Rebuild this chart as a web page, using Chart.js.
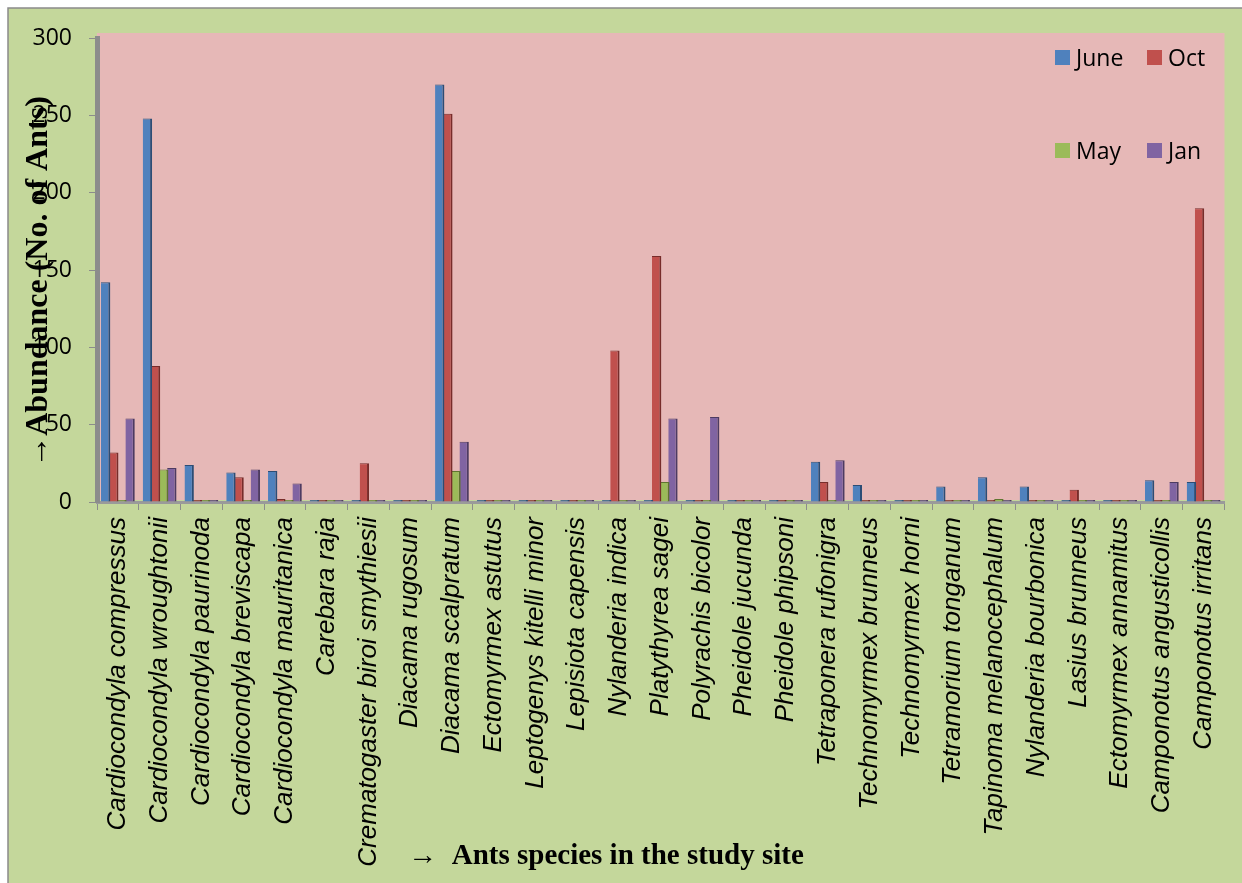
<!DOCTYPE html>
<html>
<head>
    <title>Ants abundance</title>
    <script src="https://cdn.jsdelivr.net/npm/chart.js"></script>
    <style>
        body { margin: 0; background: #fff; }
        #wrap { position: relative; width: 1242px; height: 883px; }
        #legend { position: absolute; left: 1055px; top: 41px; width: 170px; font-family: "Open Sans", sans-serif; font-size: 23px; color: #000; }
        .item { position: absolute; display: flex; align-items: center; }
        .sw { width: 15px; height: 15px; margin-right: 6px; }
    </style>
</head>
<body>
<div id="wrap">
    <canvas id="myChart" width="1242" height="883"></canvas>
    <div id="legend"></div>
</div>
<script>
    // species on the x axis
    const species = [
        "Cardiocondyla compressus", "Cardiocondyla wroughtonii", "Cardiocondyla paurinoda",
        "Cardiocondyla breviscapa", "Cardiocondyla mauritanica", "Carebara raja",
        "Crematogaster biroi smythiesii", "Diacama rugosum", "Diacama scalpratum",
        "Ectomyrmex astutus", "Leptogenys kitelli minor", "Lepisiota capensis",
        "Nylanderia indica", "Platythyrea sagei", "Polyrachis bicolor",
        "Pheidole jucunda", "Pheidole phipsoni", "Tetraponera rufonigra",
        "Technomyrmex brunneus", "Technomyrmex horni", "Tetramorium tonganum",
        "Tapinoma melanocephalum", "Nylanderia bourbonica", "Lasius brunneus",
        "Ectomyrmex annamitus", "Camponotus angusticollis", "Camponotus irritans"
    ];

    const june = [142, 248, 24, 19, 20, 0, 0, 0, 270, 0, 0, 0, 0, 0, 0, 0, 0, 26, 11, 0, 10, 16, 10, 0, 0, 14, 13];
    const oct  = [32, 88, 0, 16, 2, 0, 25, 0, 251, 0, 0, 0, 98, 159, 0, 0, 0, 13, 0, 0, 0, 0, 0, 8, 0, 0, 190];
    const may  = [0, 21, 0, 0, 0, 0, 0, 0, 20, 0, 0, 0, 0, 13, 0, 0, 0, 0, 0, 0, 0, 2, 0, 0, 0, 0, 0];
    const jan  = [54, 22, 0, 21, 12, 0, 0, 0, 39, 0, 0, 0, 0, 54, 55, 0, 0, 27, 0, 0, 0, 0, 0, 0, 0, 13, 0];

    const yTicks = [0, 50, 100, 150, 200, 250, 300];

    const seriesNames = ["June", "Oct", "May", "Jan"];
    const seriesData = [june, oct, may, jan];
    const fills = ["#4f81bd", "#c0504d", "#9bbb59", "#8064a2"];
    const sides = ["#2c4d75", "#772c2a", "#5f7530", "#4d3b62"];

    const yTitle = "\u2192Abundance (No. of Ants)";
    const xTitle = "\u2192  Ants species in the study site";

    // backgrounds: outer green frame, pink plot wall, axis titles
    const frame = {
        id: "frame",
        beforeDraw(chart) {
            const c = chart.ctx, a = chart.chartArea;
            c.save();
            c.fillStyle = "#ffffff";
            c.fillRect(0, 0, chart.width, chart.height);
            c.fillStyle = "#c4d79b";
            c.fillRect(8, 8, chart.width - 8, chart.height - 8);
            c.strokeStyle = "#8a8a8a";
            c.lineWidth = 1.5;
            c.strokeRect(8, 8, chart.width - 6, chart.height);
            c.fillStyle = "#e6b8b7";
            c.fillRect(a.left, a.top - 5, a.right - a.left, a.bottom - a.top + 3);
            c.restore();
        },
        afterDraw(chart) {
            const c = chart.ctx, a = chart.chartArea;
            c.save();
            c.fillStyle = "#000";
            c.textAlign = "center";
            c.textBaseline = "middle";
            c.font = "bold 29px 'Liberation Serif'";
            c.fillText(xTitle, 606, 857);
            c.translate(39, (a.top + a.bottom) / 2 + 12);
            c.rotate(-Math.PI / 2);
            c.font = "bold 32px 'Liberation Serif'";
            c.fillText(yTitle, 0, 0);
            c.restore();
        }
    };

    const ctx = document.getElementById("myChart");
    new Chart(ctx, {
        type: "bar",
        data: {
            labels: species,
            datasets: seriesNames.map((n, i) => ({
                label: n,
                data: seriesData[i],
                backgroundColor: fills[i],
                borderColor: sides[i],
                borderWidth: { right: 2, top: 1 },
                borderSkipped: false,
                minBarLength: 2,
                barPercentage: 1.15,
                categoryPercentage: 0.78
            }))
        },
        options: {
            responsive: false,
            animation: false,
            layout: { padding: { top: 38, right: 10, left: 0, bottom: 0 } },
            plugins: {
                legend: { display: false },
                tooltip: { enabled: false }
            },
            scales: {
                x: {
                    afterFit: (s) => { s.height = 381; },
                    grid: { drawOnChartArea: false, drawTicks: true, tickLength: 8, color: "#8c8c8c", offset: true },
                    border: { color: "#9a9a9a", width: 3 },
                    ticks: {
                        minRotation: 90, maxRotation: 90, autoSkip: false,
                        padding: 7,
                        color: "#000",
                        font: { family: "'Liberation Sans'", size: 26, style: "italic" }
                    }
                },
                y: {
                    min: 0, max: 300,
                    afterFit: (s) => { s.width = 97; },
                    afterBuildTicks: (s) => { s.ticks = yTicks.map(v => ({ value: v })); },
                    grid: { drawOnChartArea: false, drawTicks: true, tickLength: 8, color: "#8c8c8c" },
                    border: { color: "#8c8c8c", width: 5 },
                    ticks: {
                        color: "#000",
                        padding: 17,
                        font: { family: "'Open Sans'", size: 23 }
                    }
                }
            }
        },
        plugins: [frame]
    });

    // legend, 2x2 like the original
    const leg = document.getElementById("legend");
    seriesNames.forEach((n, i) => {
        const d = document.createElement("div");
        d.className = "item";
        d.style.left = (i % 2 ? 92 : 0) + "px";
        d.style.top = (i < 2 ? 0 : 93) + "px";
        d.innerHTML = '<span class="sw" style="background:' + fills[i] + '"></span>' + n;
        leg.appendChild(d);
    });
</script>
</body>
</html>
